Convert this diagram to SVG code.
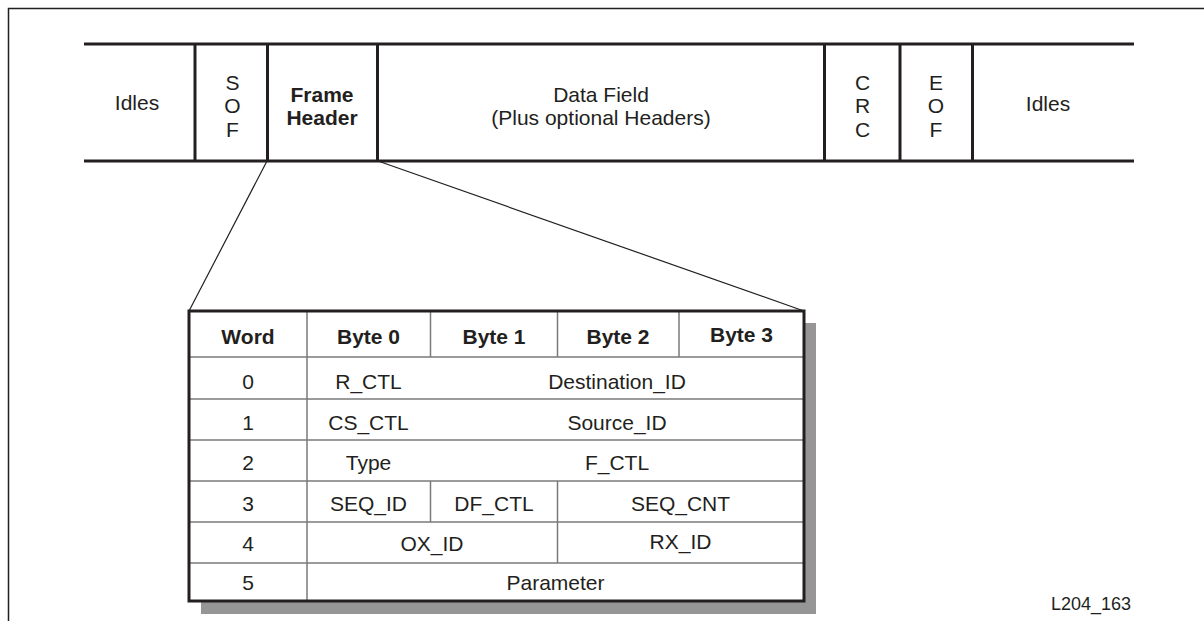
<svg xmlns="http://www.w3.org/2000/svg" width="1204" height="633" viewBox="0 0 1204 633">
<style>
text{font-family:"Liberation Sans",Arial,sans-serif;font-size:21px;fill:#231f20;text-anchor:middle}
.b{font-weight:bold}
.thick{stroke:#231f20;stroke-width:3;fill:none}
.thin{stroke:#231f20;stroke-width:1.2;fill:none}
.grid{stroke:#7a7a7a;stroke-width:1.5;fill:none}
</style>
<rect x="0" y="0" width="1204" height="633" fill="#ffffff"/>
<path d="M8.5,621 V8.5 H1204" stroke="#231f20" stroke-width="1.5" fill="none"/>
<g id="frame">
<line class="thick" x1="84" y1="44" x2="1134" y2="44"/>
<line class="thick" x1="84" y1="161" x2="1134" y2="161"/>
<line class="thick" x1="195" y1="44" x2="195" y2="161"/>
<line class="thick" x1="267.5" y1="44" x2="267.5" y2="161"/>
<line class="thick" x1="377.5" y1="44" x2="377.5" y2="161"/>
<line class="thick" x1="824.5" y1="44" x2="824.5" y2="161"/>
<line class="thick" x1="900" y1="44" x2="900" y2="161"/>
<line class="thick" x1="972.5" y1="44" x2="972.5" y2="161"/>
</g>
<g id="idles-left"><text x="137" y="110">Idles</text></g>
<g id="sof"><text x="232.5" y="90">S</text><text x="232.5" y="113.3">O</text><text x="232.5" y="136.7">F</text></g>
<g id="frame-header"><text class="b" x="322" y="102">Frame</text><text class="b" x="322" y="125">Header</text></g>
<g id="data-field"><text x="601" y="102">Data Field</text><text x="601" y="125">(Plus optional Headers)</text></g>
<g id="crc"><text x="862.5" y="90">C</text><text x="862.5" y="113.3">R</text><text x="862.5" y="136.7">C</text></g>
<g id="eof"><text x="936" y="90">E</text><text x="936" y="113.3">O</text><text x="936" y="136.7">F</text></g>
<g id="idles-right"><text x="1048" y="111">Idles</text></g>
<g id="connectors">
<line class="thin" x1="267" y1="161" x2="189" y2="311"/>
<line class="thin" x1="378" y1="161" x2="804" y2="311"/>
</g>
<g id="header-table">
<rect x="201" y="323" width="615" height="291" fill="#969696"/>
<rect x="189" y="311" width="615" height="290" fill="#ffffff"/>
<g class="grid">
<line x1="189" y1="357" x2="804" y2="357"/>
<line x1="189" y1="399" x2="804" y2="399"/>
<line x1="189" y1="440" x2="804" y2="440"/>
<line x1="189" y1="481" x2="804" y2="481"/>
<line x1="189" y1="522" x2="804" y2="522"/>
<line x1="189" y1="563" x2="804" y2="563"/>
<line x1="307" y1="311" x2="307" y2="601"/>
<line x1="430.5" y1="311" x2="430.5" y2="357"/>
<line x1="430.5" y1="481" x2="430.5" y2="522"/>
<line x1="557.5" y1="311" x2="557.5" y2="357"/>
<line x1="557.5" y1="481" x2="557.5" y2="563"/>
<line x1="679" y1="311" x2="679" y2="357"/>
</g>
<rect class="thick" x="189" y="311" width="615" height="290"/>
<text class="b" x="248" y="344">Word</text>
<text class="b" x="368.5" y="344">Byte 0</text>
<text class="b" x="494" y="344">Byte 1</text>
<text class="b" x="618" y="344">Byte 2</text>
<text class="b" x="741.5" y="342">Byte 3</text>
<text x="248" y="389">0</text><text x="368.5" y="389">R_CTL</text><text x="617" y="389">Destination_ID</text>
<text x="248" y="429.5">1</text><text x="368.5" y="429.5">CS_CTL</text><text x="617" y="429.5">Source_ID</text>
<text x="248" y="470">2</text><text x="368.5" y="470">Type</text><text x="617" y="470">F_CTL</text>
<text x="248" y="511">3</text><text x="368.5" y="511">SEQ_ID</text><text x="494" y="511">DF_CTL</text><text x="680.5" y="511">SEQ_CNT</text>
<text x="248" y="551">4</text><text x="432" y="551">OX_ID</text><text x="680.5" y="549">RX_ID</text>
<text x="248" y="590">5</text><text x="555.5" y="590">Parameter</text>
</g>
<g id="label"><text x="1091" y="610" style="font-size:18px">L204_163</text></g>
</svg>
